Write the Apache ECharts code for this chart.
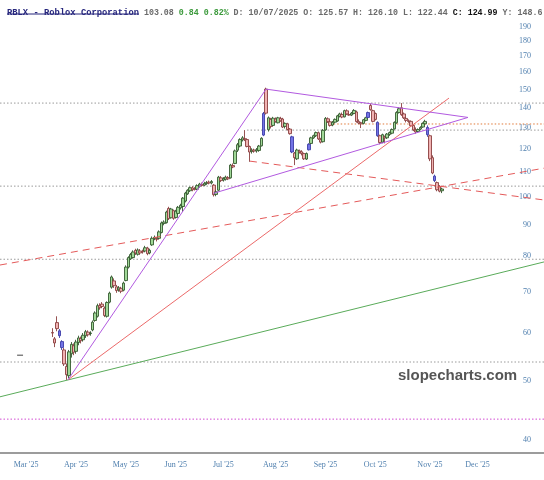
<!DOCTYPE html>
<html><head><meta charset="utf-8">
<script src="https://cdn.jsdelivr.net/npm/echarts@6/dist/echarts.min.js"></script>
<style>html,body{margin:0;padding:0;background:#fff}#c{width:544px;height:480px}</style>
</head><body><div id="c"></div>
<script>
// ---------------- data ----------------
const firstSession = '2025-02-14';
const totalSessions = 229;
const holidays = ['2025-02-17','2025-04-18','2025-05-26','2025-06-19','2025-07-04','2025-09-01'];
const candleStart = '2025-03-18';

const opens  = [60.0,58.6,62.3,60.4,58.0,56.2,52.8,51.0,55.4,57.1,55.9,57.8,58.7,58.4,59.3,60.1,59.8,60.6,62.8,63.8,
 66.4,66.8,65.8,63.8,67.3,71.2,72.9,71.3,70.5,70.9,70.4,73.0,76.8,79.2,79.6,81.8,80.6,81.6,81.5,81.6,
 82.5,81.0,83.5,85.5,85.5,85.6,87.5,90.5,90.8,95.8,92.5,95.0,92.6,94.0,96.0,96.5,98.5,101.2,102.4,103.5,
 103.2,103.0,104.2,104.9,104.6,105.2,105.8,105.5,104.6,101.0,102.6,107.5,106.6,106.9,107.6,107.5,112.6,113.5,119.3,121.2,
 124.0,124.7,124.2,121.0,118.8,119.4,119.0,119.2,121.3,126.3,150.2,128.9,134.0,131.0,134.2,132.3,134.5,134.2,130.5,131.8,
 129.2,125.5,118.0,115.5,119.0,118.6,117.8,115.4,119.5,122.4,125.0,126.0,127.4,124.2,123.2,128.8,134.3,132.8,131.2,132.6,
 133.2,135.5,136.5,135.3,138.4,136.5,136.2,137.0,137.8,133.0,132.3,132.0,133.5,135.0,141.2,138.5,137.0,132.5,126.0,123.0,
 125.57,125.0,126.6,127.2,129.3,132.3,137.5,140.0,136.8,134.5,133.3,133.0,131.0,128.7,128.0,129.2,130.2,131.8,130.0,126.0,
 116.0,108.2,105.6,104.0,102.4];
const closes = [59.9,57.7,60.9,59.3,56.7,53.3,51.2,55.8,57.4,55.7,57.9,58.8,58.2,59.4,60.2,59.5,59.9,62.4,64.6,66.4,
 65.9,66.2,64.0,67.2,69.6,74.0,71.6,70.3,71.0,70.1,72.3,76.8,79.6,80.5,81.3,81.0,81.9,81.0,81.3,82.6,
 80.8,81.8,85.6,85.9,85.3,87.7,90.7,91.0,94.5,92.2,95.6,92.3,94.8,96.2,96.9,99.6,101.5,102.6,103.6,102.8,
 103.0,104.4,105.0,104.5,105.3,105.6,105.4,106.0,100.9,102.0,107.8,106.4,107.2,107.8,107.1,112.8,112.0,119.0,121.8,124.2,
 125.0,124.3,121.0,118.5,119.3,118.9,119.5,121.2,124.8,137.0,137.2,134.8,130.5,134.6,133.0,134.8,133.3,130.2,132.0,129.0,
 127.0,118.5,116.0,119.4,118.5,117.8,115.5,117.8,122.0,125.0,126.0,127.5,124.5,123.0,128.6,134.5,133.0,131.0,132.5,134.0,
 135.8,136.8,135.2,138.5,136.8,136.2,137.2,138.6,132.9,132.2,131.8,133.8,134.8,137.5,139.0,133.0,134.0,126.0,122.8,126.5,
 124.99,126.8,127.5,129.0,132.5,137.5,139.5,136.4,134.8,133.5,133.0,130.8,128.8,127.8,129.0,130.0,132.0,133.0,126.5,115.5,
 109.5,106.4,102.8,102.24,103.08];
const lows   = [59.0,56.8,60.3,58.8,56.2,52.9,50.2,50.5,54.6,55.1,55.4,57.2,57.6,58.0,58.8,59.1,59.3,60.3,62.5,63.5,
 65.4,65.8,63.6,63.5,67.0,70.8,71.0,69.7,70.0,69.6,70.1,72.8,76.4,78.9,79.3,80.4,80.2,80.5,80.8,81.2,
 80.3,80.6,83.2,85.0,84.6,85.3,87.2,89.9,90.5,91.7,92.2,91.8,92.2,93.6,95.4,94.5,98.0,100.8,101.9,102.2,
 102.5,102.7,103.6,104.0,104.2,104.7,104.9,104.9,100.2,100.3,102.2,105.8,106.0,106.4,106.6,107.2,111.5,113.2,118.5,120.6,
 123.3,123.5,120.6,114.2,117.8,118.2,118.2,118.6,121.0,125.8,136.5,128.0,129.5,130.6,132.3,132.0,132.8,129.7,129.5,128.5,
 126.5,118.0,112.8,115.0,117.8,117.0,115.0,115.0,119.2,122.0,124.5,125.4,124.0,122.4,122.8,128.4,132.2,130.4,130.6,132.0,
 132.8,135.0,134.6,135.0,136.2,135.8,135.7,136.6,132.4,131.6,129.7,131.5,133.0,134.7,138.5,132.5,133.5,125.5,122.0,122.5,
 122.44,124.5,125.9,126.7,129.0,131.8,137.0,135.8,134.2,132.5,132.3,130.2,128.2,127.0,127.5,128.6,129.8,131.3,125.5,114.5,
 109.0,105.8,102.2,101.8,101.5];
const highs  = [61.0,59.0,63.8,60.8,58.3,56.6,53.4,56.2,57.9,57.6,58.4,59.3,59.1,59.9,60.6,60.5,60.3,62.8,65.0,66.9,
 67.0,67.3,66.2,67.5,70.0,74.4,73.6,71.8,71.5,71.3,72.7,77.3,80.0,81.0,81.8,82.3,82.4,82.2,82.0,83.2,
 82.9,82.3,86.2,86.5,86.0,88.2,91.2,91.6,95.0,96.4,96.0,95.4,95.3,96.7,97.5,100.0,102.0,103.0,104.0,104.2,
 103.8,104.9,105.5,105.6,105.9,106.2,106.4,106.6,105.0,102.6,108.3,108.2,107.8,108.4,108.2,113.3,113.5,119.6,122.6,124.8,
 125.8,128.7,124.8,121.4,120.2,120.0,120.3,121.7,125.3,137.8,151.0,135.5,134.8,135.3,135.0,135.3,135.3,134.8,132.5,132.3,
 129.7,126.0,118.5,120.0,119.6,119.3,118.2,118.3,122.5,125.5,126.5,128.0,128.0,125.0,129.2,135.2,135.0,133.3,133.2,134.5,
 136.3,137.4,137.5,139.0,139.2,137.0,137.8,139.3,138.5,134.0,132.8,134.2,135.3,138.0,142.3,139.0,137.5,133.0,126.5,127.0,
 126.10,127.3,128.0,129.5,133.0,138.2,140.2,142.5,137.5,135.2,134.0,133.5,131.5,130.0,129.5,130.6,132.5,133.8,131.0,126.5,
 117.0,108.8,106.0,104.6,103.6];
const blueCandles = [3,4,89,101,108,133,137,158,161];   // positions in the candle arrays

const monthKeys   = ['2025-03','2025-04','2025-05','2025-06','2025-07','2025-08','2025-09','2025-10','2025-11','2025-12'];
const monthLabels = ["Mar '25","Apr '25","May '25","Jun '25","Jul '25","Aug '25","Sep '25","Oct '25","Nov '25","Dec '25"];
const yTicks = [40,50,60,70,80,90,100,110,120,130,140,150,160,170,180,190];
const yMin = 38.11, yMax = 194.9;

// drawn studies: [session index, price]
const purpleRise  = [[27.6,50.2],[111.0,150.2]];
const purpleTop   = [[111.0,150.2],[196.0,135.0]];
const purpleBase  = [[88.8,101.4],[196.0,135.0]];
const redTrend    = [[27.6,50.2],[188.0,145.2]];
const redDashUp   = [[-1,77.4],[228,111.5]];
const redDashDown = [[104.2,114.5],[228,98.9]];
const greenTrend  = [[-1,47.1],[228,78.3]];
const grayLevels  = [142.5,104.2,79.1,53.7];
const pinkLevel   = 43.3;
const grayPartial = [[103,128.7],[228,128.7]];
const orangeLevel = [[138,131.7],[228,131.7]];
const markerDash  = [[6.2,55.1],[8.7,55.1]];

const header = {sym:'RBLX - Roblox Corporation', last:'103.08', chg:'0.84 0.82%',
  ohl:'D: 10/07/2025 O: 125.57 H: 126.10 L: 122.44', close:'C: 124.99', yr:'Y: 148.6'};

// ---------------- build ----------------
const dates = [];
{ const d = new Date(firstSession + 'T00:00:00Z');
  while (dates.length < totalSessions) {
    const s = d.toISOString().slice(0,10), wd = d.getUTCDay();
    if (wd !== 0 && wd !== 6 && !holidays.includes(s)) dates.push(s);
    d.setUTCDate(d.getUTCDate() + 1);
  } }
const L = v => Math.log10(v);
const monthIdx = monthKeys.map(k => dates.findIndex(s => s.startsWith(k)));
const labelMap = {}; monthIdx.forEach((ix, j) => labelMap[ix] = monthLabels[j]);
const idx0 = dates.indexOf(candleStart);

const blueStyle = {color:'#7373e6', color0:'#7373e6', borderColor:'#3d3da8', borderColor0:'#3d3da8'};
const candleData = opens.map((o,k) => {
  const it = {value:[idx0+k, L(o), L(closes[k]), L(lows[k]), L(highs[k])]};
  if (blueCandles.includes(k)) it.itemStyle = blueStyle;
  return it;
});

function seg(pts, color, type, width, z) {
  return {type:'line', data: pts.map(p => [p[0], L(p[1])]), symbol:'none', silent:true,
    animation:false, clip:true, z: z, lineStyle:{color:color, type:type, width:width}};
}
const series = [];
grayLevels.forEach(v => series.push(seg([[-1,v],[228,v]], '#9a9a9a', [1.5,2], 1, 1)));
series.push(seg([[-1,pinkLevel],[228,pinkLevel]], '#d24bd2', [1.5,2], 1, 1));
series.push(seg(grayPartial, '#9a9a9a', [1.5,2], 1, 1));
series.push(seg(orangeLevel, '#e07a3a', [1.5,2], 1, 1));
series.push({type:'candlestick', data:candleData, barWidth:3, z:2, animation:false,
  itemStyle:{color:'#a0d897', color0:'#f1b3b3', borderColor:'#365a30', borderColor0:'#8a4040', borderWidth:0.9}});
series.push(seg(greenTrend, '#5aab5a', 'solid', 1, 3));
series.push(seg(redTrend, '#ec6a6a', 'solid', 1, 3));
series.push(seg(redDashUp, '#e45a5a', [7,5], 1, 3));
series.push(seg(redDashDown, '#e45a5a', [7,5], 1, 3));
series.push(seg(purpleRise, '#b25ae0', 'solid', 1, 4));
series.push(seg(purpleTop, '#b25ae0', 'solid', 1, 4));
series.push(seg(purpleBase, '#b25ae0', 'solid', 1, 4));
series.push(seg(markerDash, '#444444', 'solid', 1, 4));

const lblFont = {color:'#4f7fae', fontFamily:'Liberation Serif', fontSize:8};
const chart = echarts.init(document.getElementById('c'), null, {renderer:'canvas'});
chart.setOption({
  animation:false,
  backgroundColor:'#ffffff',
  title:{
    left:7, top:4, padding:0,
    text:'{t|'+header.sym+'}{n| '+header.last+'} {g|'+header.chg+'} {n|'+header.ohl+'} {c|'+header.close+'} {n|'+header.yr+'}',
    textStyle:{rich:{
      t:{fontFamily:'Liberation Mono', fontSize:8.8, fontWeight:'bold', color:'#25257c'},
      n:{fontFamily:'Liberation Mono', fontSize:8.3, color:'#6a6a6a'},
      g:{fontFamily:'Liberation Mono', fontSize:8.3, color:'#3c9a3c'},
      c:{fontFamily:'Liberation Mono', fontSize:8.3, fontWeight:'bold', color:'#111111'}
    }}
  },
  graphic:[
    {type:'line', shape:{x1:7, y1:14, x2:139, y2:14}, style:{stroke:'#25257c', lineWidth:1}, silent:true},
    {type:'text', left:398, top:368, silent:true, z:10,
      style:{text:'slopecharts.com', font:'bold 15px "Liberation Sans"', fill:'#555555'}}
  ],
  grid:{left:0, right:0, top:20, bottom:27, containLabel:false},
  xAxis:{type:'value', min:-1, max:228,
    axisLine:{show:true, onZero:false, lineStyle:{color:'#9c9c9c', width:2}},
    axisTick:{show:false}, splitLine:{show:false},
    axisLabel:Object.assign({customValues:monthIdx, formatter:v => labelMap[Math.round(v)] || '', margin:8}, lblFont)},
  yAxis:{type:'value', position:'right', min:L(yMin), max:L(yMax),
    axisLine:{show:false}, axisTick:{show:false}, splitLine:{show:false},
    axisLabel:Object.assign({inside:true, margin:13, customValues:yTicks.map(L),
      formatter:v => String(Math.round(Math.pow(10, v)))}, lblFont)},
  series:series
});
</script></body></html>
